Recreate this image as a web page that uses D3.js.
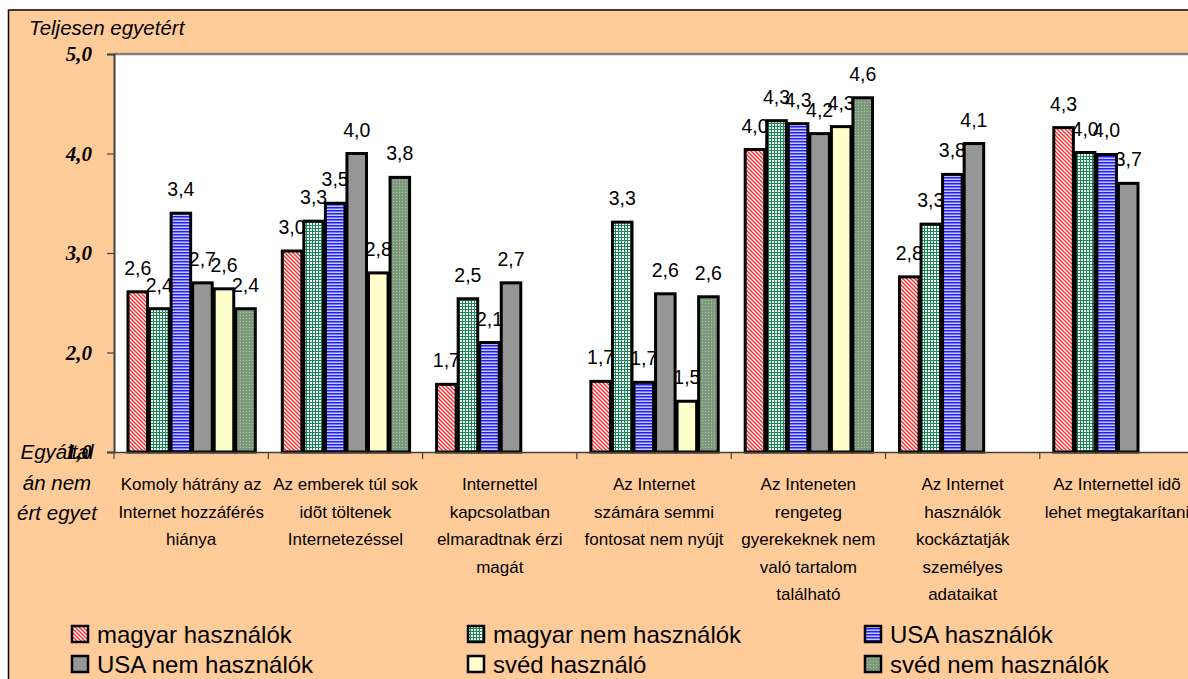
<!DOCTYPE html>
<html>
<head>
<meta charset="utf-8">
<script src="https://cdn.jsdelivr.net/npm/d3@7"></script>
<style>
  html, body { margin: 0; padding: 0; background: #ffffff; }
  svg { display: block; }
</style>
</head>
<body>
<div id="chart"></div>
<script>
// DATA
var categories = [
  ["Komoly hátrány az", "Internet hozzáférés", "hiánya"],
  ["Az emberek túl sok", "idõt töltenek", "Internetezéssel"],
  ["Internettel", "kapcsolatban", "elmaradtnak érzi", "magát"],
  ["Az Internet", "számára semmi", "fontosat nem nyújt"],
  ["Az Inteneten", "rengeteg", "gyerekeknek nem", "való tartalom", "található"],
  ["Az Internet", "használók", "kockáztatják", "személyes", "adataikat"],
  ["Az Internettel idõ", "lehet megtakarítani"]
];
var seriesNames = ["magyar használók", "magyar nem használók", "USA használók",
                   "USA nem használók", "svéd használó", "svéd nem használók"];
var magyarHasznalok    = [2.61, 3.02, 1.68, 1.71, 4.04, 2.76, 4.26];
var magyarNemHasznalok = [2.44, 3.32, 2.54, 3.31, 4.33, 3.29, 4.01];
var usaHasznalok       = [3.40, 3.50, 2.10, 1.70, 4.30, 3.79, 3.99];
var usaNemHasznalok    = [2.70, 4.00, 2.70, 2.59, 4.20, 4.10, 3.70];
var svedHasznalo       = [2.64, 2.80, null, 1.51, 4.27, null, null];
var svedNemHasznalok   = [2.44, 3.76, null, 2.56, 4.56, null, null];
var yTicks = [1, 2, 3, 4, 5];
var yTopLabel = "Teljesen egyetért";
var yBottomLabel = ["Egyáltal", "án nem", "ért egyet"];

var seriesValues = [magyarHasznalok, magyarNemHasznalok, usaHasznalok,
                    usaNemHasznalok, svedHasznalo, svedNemHasznalok];

// COLORS and FONTS
var sans = "'Liberation Sans', Arial, sans-serif";
var serif = "'Liberation Serif', 'Times New Roman', serif";
var peach = "#ffcc99";
var fills = ["url(#pRed)", "url(#pGreen)", "url(#pBlue)", "#969696", "#ffffcc", "url(#pSage)"];

var W = 1188, H = 679;
var plot = {left: 114, top: 54, bottom: 452, catWidth: 154.3};

var svg = d3.select("#chart").append("svg")
  .attr("width", W).attr("height", H);

// patterns
var defs = svg.append("defs");
var pr = defs.append("pattern").attr("id", "pRed").attr("patternUnits", "userSpaceOnUse")
  .attr("width", 4).attr("height", 4);
pr.append("rect").attr("width", 4).attr("height", 4).attr("fill", "#ffffff");
pr.append("path").attr("d", "M0,0L4,4M-1,3L1,5M3,-1L5,1")
  .attr("stroke", "#ff2020").attr("stroke-width", 1.3);

var pg = defs.append("pattern").attr("id", "pGreen").attr("patternUnits", "userSpaceOnUse")
  .attr("width", 3).attr("height", 3);
pg.append("rect").attr("width", 3).attr("height", 3).attr("fill", "#ffffff");
pg.append("rect").attr("width", 3).attr("height", 1).attr("fill", "#1a8a55");
pg.append("rect").attr("width", 1).attr("height", 3).attr("fill", "#1a8a55");

var pb = defs.append("pattern").attr("id", "pBlue").attr("patternUnits", "userSpaceOnUse")
  .attr("width", 3).attr("height", 3);
pb.append("rect").attr("width", 3).attr("height", 3).attr("fill", "#c8c8ff");
pb.append("rect").attr("width", 3).attr("height", 1.5).attr("fill", "#2020ff");

var ps = defs.append("pattern").attr("id", "pSage").attr("patternUnits", "userSpaceOnUse")
  .attr("width", 3).attr("height", 3);
ps.append("rect").attr("width", 3).attr("height", 3).attr("fill", "#7d9a7d");
ps.append("rect").attr("width", 1).attr("height", 1).attr("fill", "#a9c2a9");

// background + frame
svg.append("rect").attr("x", 0).attr("y", 0).attr("width", W).attr("height", H).attr("fill", "#ffffff");
svg.append("rect").attr("x", 8.5).attr("y", 10).attr("width", W).attr("height", H)
  .attr("fill", peach).attr("stroke", "#000000").attr("stroke-width", 1.5);

// scales
var x = d3.scaleBand().domain(d3.range(categories.length))
  .range([plot.left, plot.left + plot.catWidth * categories.length]);
var xs = d3.scaleBand().domain(d3.range(seriesNames.length))
  .range([13, plot.catWidth - 12]);
var y = d3.scaleLinear().domain([1, 5]).range([plot.bottom, plot.top]);

// plot area
svg.append("rect").attr("x", plot.left).attr("y", plot.top)
  .attr("width", W - plot.left + 10).attr("height", plot.bottom - plot.top)
  .attr("fill", "#ffffff");
svg.append("line").attr("x1", plot.left).attr("x2", W + 10)
  .attr("y1", plot.top).attr("y2", plot.top)
  .attr("stroke", "#808080").attr("stroke-width", 2.5);

// bars
var bars = [];
seriesValues.forEach(function(vals, s) {
  vals.forEach(function(v, c) {
    if (v != null) bars.push({s: s, c: c, v: v});
  });
});

var gBars = svg.append("g");
gBars.selectAll("rect").data(bars).enter().append("rect")
  .attr("x", function(d) { return x(d.c) + xs(d.s) + 1; })
  .attr("y", function(d) { return y(d.v); })
  .attr("width", xs.bandwidth() - 2)
  .attr("height", function(d) { return y(1) - y(d.v); })
  .attr("fill", function(d) { return fills[d.s]; })
  .attr("stroke", "#000000").attr("stroke-width", 3);

gBars.selectAll("text").data(bars).enter().append("text")
  .attr("x", function(d) { return x(d.c) + xs(d.s) + xs.bandwidth() / 2; })
  .attr("y", function(d) { return y(d.v) - 17; })
  .attr("text-anchor", "middle")
  .attr("font-family", sans).attr("font-size", 19.5).attr("fill", "#000000")
  .text(function(d) { return d.v.toFixed(1).replace(".", ","); });

// y axis
var yAxis = d3.axisLeft(y).tickValues(yTicks).tickSize(7)
  .tickFormat(function(d) { return d.toFixed(1).replace(".", ","); });
var gy = svg.append("g").attr("transform", "translate(" + plot.left + ",0)").call(yAxis);
gy.select(".domain").attr("stroke", "#404040").attr("stroke-width", 2);
gy.selectAll(".tick line").attr("stroke", "#404040").attr("stroke-width", 1.2);
gy.selectAll(".tick text")
  .attr("x", -22).attr("dy", "0.33em")
  .attr("font-family", serif).attr("font-size", 21)
  .attr("font-weight", "bold").attr("font-style", "italic").attr("fill", "#000000");

// x axis
var xAxis = d3.axisBottom(x).tickSize(0).tickFormat("");
var gx = svg.append("g").attr("transform", "translate(0," + plot.bottom + ")").call(xAxis);
gx.select(".domain").attr("stroke", "#404040").attr("stroke-width", 1.5);
gx.selectAll(".tickmark").data(d3.range(categories.length + 1)).enter().append("line")
  .attr("x1", function(d) { return plot.left + d * plot.catWidth; })
  .attr("x2", function(d) { return plot.left + d * plot.catWidth; })
  .attr("y1", 0).attr("y2", 7)
  .attr("stroke", "#404040").attr("stroke-width", 1.2);

// category labels
categories.forEach(function(lines, c) {
  var t = svg.append("text")
    .attr("text-anchor", "middle")
    .attr("font-family", sans).attr("font-size", 17).attr("fill", "#000000");
  lines.forEach(function(line, i) {
    t.append("tspan")
      .attr("x", x(c) + x.bandwidth() / 2)
      .attr("y", 490 + i * 27.5)
      .text(line);
  });
});

// axis titles
svg.append("text").attr("x", 29).attr("y", 35)
  .attr("font-family", sans).attr("font-size", 20.5).attr("font-style", "italic")
  .text(yTopLabel);
yBottomLabel.forEach(function(line, i) {
  svg.append("text").attr("x", 57).attr("y", 459 + i * 30.5)
    .attr("text-anchor", "middle")
    .attr("font-family", sans).attr("font-size", 20.5).attr("font-style", "italic")
    .text(line);
});

// legend
var legendX = [71, 467, 864];
var legendY = [643, 673];
var legend = svg.append("g").selectAll("g").data(seriesNames).enter().append("g")
  .attr("transform", function(d, i) {
    return "translate(" + legendX[i % 3] + "," + legendY[Math.floor(i / 3)] + ")";
  });
legend.append("rect").attr("x", 1).attr("y", -17).attr("width", 16).attr("height", 16)
  .attr("fill", function(d, i) { return fills[i]; })
  .attr("stroke", "#000000").attr("stroke-width", 2.5);
legend.append("text").attr("x", 26).attr("y", 0)
  .attr("font-family", sans).attr("font-size", 24).attr("fill", "#000000")
  .text(function(d) { return d; });
</script>
</body>
</html>
